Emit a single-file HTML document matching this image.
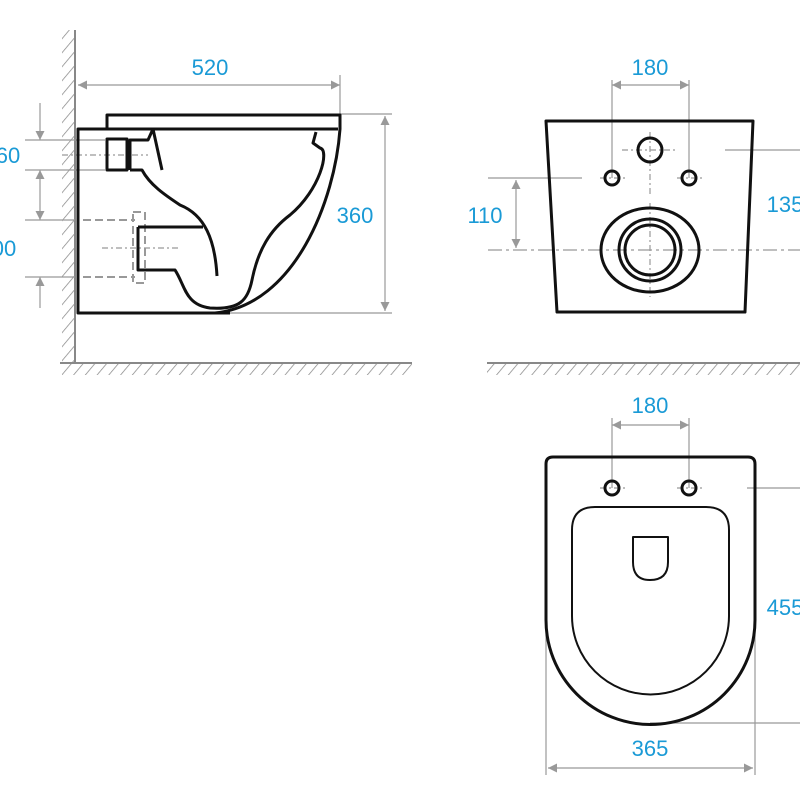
<!DOCTYPE html>
<html><head><style>html,body{margin:0;padding:0;background:#fff}svg{display:block}</style></head>
<body>
<svg width="800" height="800" viewBox="0 0 800 800" xmlns="http://www.w3.org/2000/svg" font-family="Liberation Sans, sans-serif">
<defs>
<pattern id="h" width="9" height="9" patternUnits="userSpaceOnUse" patternTransform="rotate(40)">
<line x1="0" y1="0" x2="0" y2="9" stroke="#888" stroke-width="1.5"/></pattern>
<marker id="a" viewBox="0 0 10 10" refX="10" refY="5" markerWidth="15" markerHeight="9" markerUnits="userSpaceOnUse" orient="auto-start-reverse"><path d="M0,0L10,5L0,10z" fill="#999"/></marker>
</defs>
<g fill="#1a9ad6" font-size="22" text-anchor="middle">
<text x="210" y="75">520</text><text x="355" y="223">360</text>
<text x="8" y="163">60</text><text x="4" y="256">00</text>
<text x="650" y="75">180</text><text x="485" y="223">110</text><text x="785" y="212">135</text>
<text x="650" y="413">180</text><text x="650" y="756">365</text><text x="785" y="615">455</text>
</g>
<rect x="62" y="30" width="13" height="333" fill="url(#h)"/>
<line x1="75" y1="30" x2="75" y2="363" stroke="#888" stroke-width="2"/>
<rect x="62" y="363" width="350" height="12" fill="url(#h)"/>
<line x1="60" y1="363" x2="412" y2="363" stroke="#888" stroke-width="2"/>
<rect x="487" y="363" width="313" height="12" fill="url(#h)"/>
<line x1="487" y1="363" x2="800" y2="363" stroke="#888" stroke-width="2"/>
<g stroke="#999" stroke-width="1.2" fill="none">
<line x1="78" y1="85" x2="340" y2="85" marker-start="url(#a)" marker-end="url(#a)"/>
<line x1="340" y1="75" x2="340" y2="115"/>
<line x1="340" y1="114" x2="392" y2="114"/><line x1="230" y1="313" x2="392" y2="313"/>
<line x1="385" y1="116" x2="385" y2="311" marker-start="url(#a)" marker-end="url(#a)"/>
<line x1="25" y1="140" x2="105" y2="140"/><line x1="25" y1="170" x2="105" y2="170"/>
<line x1="25" y1="220" x2="75" y2="220"/><line x1="25" y1="277" x2="75" y2="277"/>
<line x1="40" y1="103" x2="40" y2="140" marker-end="url(#a)"/>
<line x1="40" y1="170" x2="40" y2="220" marker-start="url(#a)" marker-end="url(#a)"/>
<line x1="40" y1="308" x2="40" y2="277" marker-end="url(#a)"/>
<line x1="612" y1="85" x2="689" y2="85" marker-start="url(#a)" marker-end="url(#a)"/>
<line x1="612" y1="80" x2="612" y2="178"/><line x1="689" y1="80" x2="689" y2="178"/>
<line x1="488" y1="178" x2="582" y2="178"/>
<line x1="488" y1="250" x2="800" y2="250" stroke-dasharray="14 4 3 4"/>
<line x1="725" y1="150" x2="800" y2="150"/>
<line x1="516" y1="180" x2="516" y2="248" marker-start="url(#a)" marker-end="url(#a)"/>
<line x1="612" y1="425" x2="689" y2="425" marker-start="url(#a)" marker-end="url(#a)"/>
<line x1="612" y1="418" x2="612" y2="488"/><line x1="689" y1="418" x2="689" y2="488"/>
<line x1="747" y1="488" x2="800" y2="488"/><line x1="650" y1="723" x2="800" y2="723"/>
<line x1="546" y1="620" x2="546" y2="775"/><line x1="755" y1="620" x2="755" y2="775"/>
<line x1="548" y1="768" x2="753" y2="768" marker-start="url(#a)" marker-end="url(#a)"/>
<g stroke-dasharray="6 3 2 3">
<line x1="62" y1="155" x2="148" y2="155"/><line x1="102" y1="248" x2="178" y2="248"/>
<line x1="622" y1="150" x2="678" y2="150"/><line x1="650" y1="132" x2="650" y2="195"/>
<line x1="600" y1="178" x2="625" y2="178"/><line x1="677" y1="178" x2="702" y2="178"/>
<line x1="650" y1="203" x2="650" y2="297"/>
<line x1="600" y1="488" x2="625" y2="488"/><line x1="677" y1="488" x2="702" y2="488"/>
</g>
<g stroke-dasharray="8 4" stroke-width="2">
<line x1="83" y1="220" x2="135" y2="220"/><line x1="83" y1="277" x2="135" y2="277"/>
<rect x="133" y="212" width="12" height="71"/>
</g>
</g>
<g stroke="#111" stroke-width="3" fill="none" stroke-linejoin="round">
<path d="M338,129 H78 V313 H230"/>
<path d="M107,129 V115 H340 V129 C335,200 295,305 215,313" />
<rect x="107" y="139" width="20" height="31"/>
<path d="M130,170 V140 H148 L153,129 M153,129 L162,170"/>
<path d="M130,170 H142 C150,185 165,195 180,205 C205,215 215,240 217,276"/>
<path d="M138,227 H203 M138,227 V270 H175 C185,285 185,305 210,308 C240,310 248,300 252,280 C258,250 270,230 290,215 C320,190 330,150 320,148 L313,143 L316,132"/>
<path d="M546,121 H753 L745,312 H557 Z"/>
<circle cx="650" cy="150" r="12"/>
<circle cx="612" cy="178" r="7"/><circle cx="689" cy="178" r="7"/>
<ellipse cx="650" cy="250" rx="49" ry="42"/>
<circle cx="650" cy="250" r="31"/><circle cx="650" cy="250" r="25"/>
<path d="M546,620 V464 Q546,457 553,457 H748 Q755,457 755,464 V620 A104.5,104.5 0 0 1 546,620 Z"/>
<path d="M572,616 V530 Q572,507 595,507 H706 Q729,507 729,530 V616 A78.5,78.5 0 0 1 572,616 Z" stroke-width="2"/>
<path d="M633,537 H668 V562 Q668,580 650,580 Q633,580 633,562 Z" stroke-width="2"/>
<circle cx="612" cy="488" r="7"/><circle cx="689" cy="488" r="7"/>
</g>
</svg>
</body></html>
